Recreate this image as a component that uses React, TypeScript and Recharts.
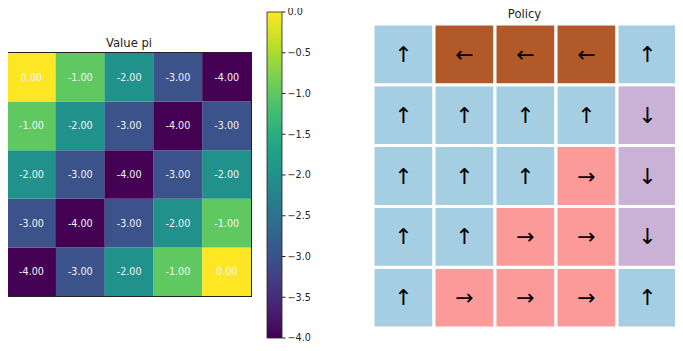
import React from "react";
import { BarChart, Bar, XAxis, YAxis, Cell } from "recharts";

const columns = ["c0", "c1", "c2", "c3", "c4"];

// state values, top row first
const valueRows = [
  [0, -1, -2, -3, -4],
  [-1, -2, -3, -4, -3],
  [-2, -3, -4, -3, -2],
  [-3, -4, -3, -2, -1],
  [-4, -3, -2, -1, 0],
];

// greedy policy, top row first
const policyRows = [
  ["↑", "←", "←", "←", "↑"],
  ["↑", "↑", "↑", "↑", "↓"],
  ["↑", "↑", "↑", "→", "↓"],
  ["↑", "↑", "→", "→", "↓"],
  ["↑", "→", "→", "→", "↑"],
];

const colorbarTicks = [0, -0.5, -1, -1.5, -2, -2.5, -3, -3.5, -4];
const colorbarData = [{ name: "cb", value: -4 }];

const viridisStops = [
  "#440154", "#482475", "#414487", "#355f8d", "#2a788e", "#21918c",
  "#22a884", "#44bf70", "#7ad151", "#bddf26", "#fde725",
];

const actionColors: Record<string, string> = {
  "↑": "#a6cee3",
  "←": "#b15928",
  "→": "#fb9a99",
  "↓": "#cab2d6",
};

const hex = (s: string) => [1, 3, 5].map((k) => parseInt(s.slice(k, k + 2), 16));

function viridis(v: number) {
  const t = Math.min(1, Math.max(0, (v + 4) / 4)) * 10;
  const i = Math.min(9, Math.floor(t));
  const f = t - i;
  const a = hex(viridisStops[i]);
  const b = hex(viridisStops[i + 1]);
  const c = a.map((x, k) => Math.round(x + (b[k] - x) * f));
  return `rgb(${c[0]},${c[1]},${c[2]})`;
}

const gridData = columns.map((col) => {
  const d: Record<string, string | number> = { col };
  valueRows.forEach((_, i) => {
    d[`s${i}`] = 1;
  });
  return d;
});

const bottomUp = [4, 3, 2, 1, 0];
const font = "'DejaVu Sans', sans-serif";

const titleStyle: React.CSSProperties = {
  position: "absolute",
  fontFamily: font,
  fontSize: 11.6,
  lineHeight: "12px",
  color: "#222",
  textAlign: "center",
};

function ValueHeatmap() {
  return (
    <BarChart
      width={244}
      height={243}
      data={gridData}
      margin={{ top: 0, right: 0, bottom: 0, left: 0 }}
      barCategoryGap={0}
      barGap={0}
    >
      <XAxis dataKey="col" hide />
      <YAxis type="number" domain={[0, 5]} hide />
      {bottomUp.map((i) => (
        <Bar
          key={i}
          dataKey={`s${i}`}
          stackId="v"
          isAnimationActive={false}
          label={(p: any) => (
            <text
              x={p.x + p.width / 2}
              y={p.y + p.height / 2}
              textAnchor="middle"
              dominantBaseline="central"
              fill="#f4f4f4"
              fontSize={9.6}
              fontFamily={font}
            >
              {valueRows[i][p.index].toFixed(2)}
            </text>
          )}
        >
          {columns.map((c, j) => (
            <Cell key={c} fill={viridis(valueRows[i][j])} />
          ))}
        </Bar>
      ))}
    </BarChart>
  );
}

function Colorbar() {
  return (
    <BarChart
      width={60}
      height={338}
      data={colorbarData}
      margin={{ top: 6, right: 0, bottom: 6, left: 1 }}
      barCategoryGap={0}
    >
      <defs>
        <linearGradient id="viridisGrad" x1="0" y1="0" x2="0" y2="1">
          {viridisStops
            .slice()
            .reverse()
            .map((c, k) => (
              <stop key={k} offset={k / 10} stopColor={c} />
            ))}
        </linearGradient>
      </defs>
      <XAxis dataKey="name" hide />
      <YAxis
        orientation="right"
        type="number"
        domain={[-4, 0]}
        ticks={colorbarTicks}
        axisLine={false}
        tickSize={3.5}
        tickLine={{ stroke: "#222" }}
        width={44}
        interval={0}
        tick={{ fill: "#222", fontSize: 9.6, fontFamily: font }}
        tickFormatter={(v: number) => (v === 0 ? "0.0" : "\u2212" + Math.abs(v).toFixed(1))}
      />
      <Bar dataKey="value" fill="url(#viridisGrad)" stroke="#222" strokeWidth={0.8} isAnimationActive={false} />
    </BarChart>
  );
}

function PolicyGrid() {
  return (
    <BarChart
      width={305}
      height={304}
      data={gridData}
      margin={{ top: 0, right: 0, bottom: 0, left: 0 }}
      barCategoryGap={0}
      barGap={0}
    >
      <XAxis dataKey="col" hide />
      <YAxis type="number" domain={[0, 5]} hide />
      {bottomUp.map((i) => (
        <Bar
          key={i}
          dataKey={`s${i}`}
          stackId="p"
          stroke="#fff"
          strokeWidth={3}
          isAnimationActive={false}
          label={(p: any) => (
            <text
              x={p.x + p.width / 2}
              y={p.y + p.height / 2}
              textAnchor="middle"
              dominantBaseline="central"
              fill="#000"
              fontSize={22}
              fontFamily={font}
            >
              {policyRows[i][p.index]}
            </text>
          )}
        >
          {columns.map((c, j) => (
            <Cell key={c} fill={actionColors[policyRows[i][j]]} />
          ))}
        </Bar>
      ))}
    </BarChart>
  );
}

export default function App() {
  return (
    <div style={{ position: "relative", width: 683, height: 351, margin: -8, background: "#fff", overflow: "hidden" }}>
      <div style={{ ...titleStyle, left: 6, top: 37, width: 246 }}>Value pi</div>
      <div style={{ position: "absolute", left: 6, top: 52, width: 244, height: 243, border: "1px solid #222" }}>
        <ValueHeatmap />
      </div>
      <div style={{ position: "absolute", left: 266, top: 6 }}>
        <Colorbar />
      </div>
      <div style={{ ...titleStyle, left: 372, top: 7.5, width: 305 }}>Policy</div>
      <div style={{ position: "absolute", left: 372.5, top: 23.5 }}>
        <PolicyGrid />
      </div>
    </div>
  );
}
